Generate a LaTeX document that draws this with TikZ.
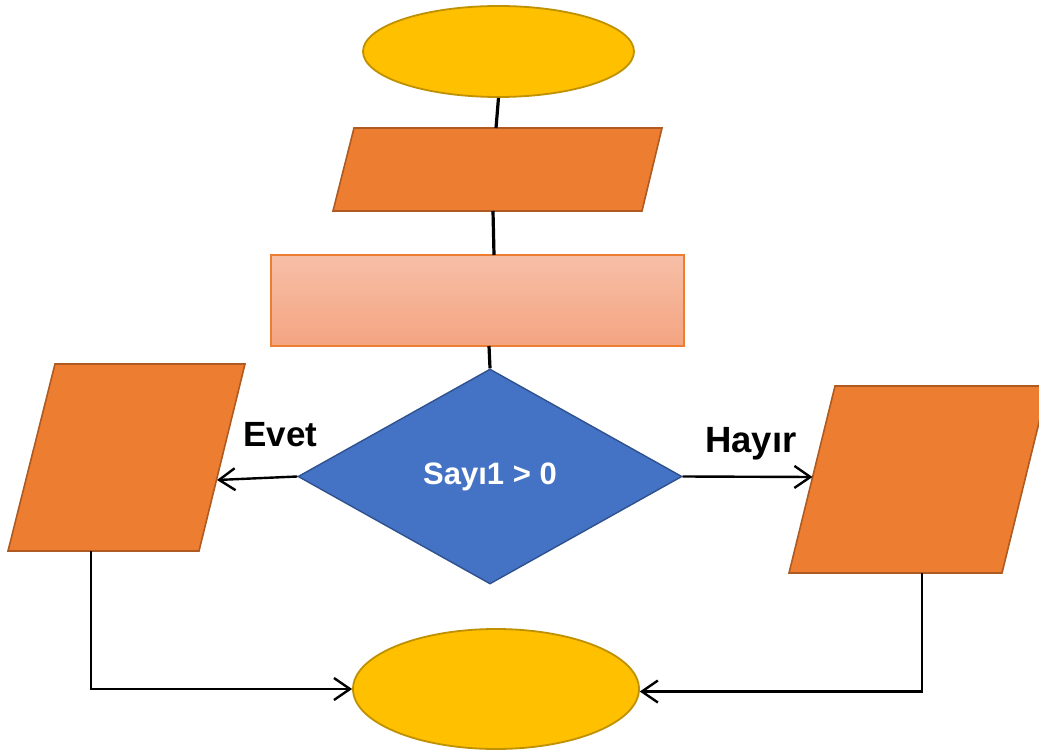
\documentclass[tikz,border=0pt]{standalone}
\usepackage{fontspec}
\setmainfont{Liberation Sans}
\usetikzlibrary{shapes.geometric,arrows.meta}
\definecolor{termfill}{HTML}{FFC000}
\definecolor{termline}{HTML}{BF9000}
\definecolor{iofill}{HTML}{ED7D31}
\definecolor{ioline}{HTML}{AE5A21}
\definecolor{proctop}{HTML}{F7BFA7}
\definecolor{procbot}{HTML}{F4A481}
\definecolor{procline}{HTML}{ED7D31}
\definecolor{decfill}{HTML}{4472C4}
\definecolor{decline}{HTML}{2F528F}
\begin{document}
\begin{tikzpicture}[x=1pt,y=-1pt,
  term/.style={ellipse, fill=termfill, draw=termline, line width=1.8pt, inner sep=0pt},
  iobox/.style={fill=iofill, draw=ioline, line width=1.6pt, line join=miter},
  procbox/.style={rectangle, top color=proctop, bottom color=procbot, draw=procline, line width=1.2pt, inner sep=0pt, minimum width=413pt, minimum height=91pt},
  decbox/.style={diamond, fill=decfill, draw=decline, line width=1.4pt, inner sep=0pt, minimum width=384pt, minimum height=215pt, text=white, font=\bfseries\fontsize{31}{36}\selectfont},
  conn/.style={draw=black, line width=3.2pt},
  arr/.style={draw=black, line width=2.4pt, -{Straight Barb[length=16pt,width=22pt]}},
  lbl/.style={inner sep=0pt, anchor=base west, text=black}
]
\useasboundingbox (0,0) rectangle (1039,751);

% start terminal
\node[term, minimum width=271pt, minimum height=91pt] (start) at (498.5,51.5) {};

% first input/output
\path[iobox] (354,128) -- (662,128) -- (642,211) -- (333,211) -- cycle;
\coordinate (ioAtop) at (496,128);
\coordinate (ioAbot) at (493,211);

% process
\node[procbox] (proc) at (477.5,300.5) {};
\coordinate (procin) at (494,255);
\coordinate (procout) at (489,346);

% decision
\node[decbox] (dec) at (490,476.5) {Sayı1 > 0};

% left output
\path[iobox] (55,364) -- (245,364) -- (199,551) -- (8,551) -- cycle;
\coordinate (yesin) at (217,480);
\coordinate (yesout) at (91,551);

% right output
\path[iobox] (835,386) -- (1048,386) -- (1002,573) -- (789,573) -- cycle;
\coordinate (noin) at (812.5,477);
\coordinate (noout) at (922,573);

% end terminal
\node[term, minimum width=286pt, minimum height=120pt] (end) at (496,689) {};

% connectors
\draw[conn] (start.south) -- (ioAtop);
\draw[conn] (ioAbot) -- (procin);
\draw[conn] (procout) -- (dec.north);
\draw[arr] (dec.west) -- (yesin);
\draw[arr] (dec.east) -- (noin);
\draw[arr] (yesout) |- (end.west);
\draw[arr] (noout) |- (end.-1.6);

% labels
\node[lbl, font=\bfseries\fontsize{35}{40}\selectfont] (evet) at (243,446) {Evet};
\node[lbl, font=\bfseries\fontsize{36.5}{42}\selectfont] (hayir) at (705,452) {Hayır};
\end{tikzpicture}
\end{document}
